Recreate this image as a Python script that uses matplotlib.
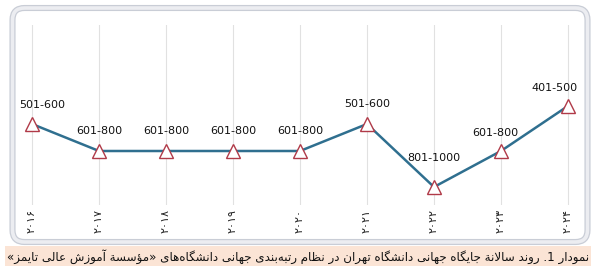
import re
import matplotlib
matplotlib.use("Agg")
import matplotlib.pyplot as plt
from matplotlib.patches import FancyBboxPatch, Rectangle

years = ["۲۰۱۶", "۲۰۱۷", "۲۰۱۸", "۲۰۱۹", "۲۰۲۰", "۲۰۲۱", "۲۰۲۲", "۲۰۲۳", "۲۰۲۴"]
rank_labels = ["501-600", "601-800", "601-800", "601-800", "601-800",
               "501-600", "801-1000", "601-800", "401-500"]
# middle of each rank band, this is what the line is drawn from
rank_mid = [550, 700, 700, 700, 700, 550, 900, 700, 450]
caption = ("نمودار 1. روند سالانة جایگاه جهانی دانشگاه تهران در نظام "
           "رتبه‌بندی جهانی دانشگاه‌های «مؤسسة آموزش عالی تایمز»")

# presentation forms: (first code point, number of forms) -> iso, fin, ini, med
TABLE = {
    'ء': (0xFE80, 1), 'آ': (0xFE81, 2), 'أ': (0xFE83, 2), 'ؤ': (0xFE85, 2),
    'إ': (0xFE87, 2), 'ئ': (0xFE89, 4), 'ا': (0xFE8D, 2), 'ب': (0xFE8F, 4),
    'ة': (0xFE93, 2), 'ت': (0xFE95, 4), 'ث': (0xFE99, 4), 'ج': (0xFE9D, 4),
    'ح': (0xFEA1, 4), 'خ': (0xFEA5, 4), 'د': (0xFEA9, 2), 'ذ': (0xFEAB, 2),
    'ر': (0xFEAD, 2), 'ز': (0xFEAF, 2), 'س': (0xFEB1, 4), 'ش': (0xFEB5, 4),
    'ص': (0xFEB9, 4), 'ض': (0xFEBD, 4), 'ط': (0xFEC1, 4), 'ظ': (0xFEC5, 4),
    'ع': (0xFEC9, 4), 'غ': (0xFECD, 4), 'ف': (0xFED1, 4), 'ق': (0xFED5, 4),
    'ك': (0xFED9, 4), 'ل': (0xFEDD, 4), 'م': (0xFEE1, 4), 'ن': (0xFEE5, 4),
    'ه': (0xFEE9, 4), 'و': (0xFEED, 2), 'ى': (0xFEEF, 2), 'ي': (0xFEF1, 4),
    'پ': (0xFB56, 4), 'چ': (0xFB7A, 4), 'ژ': (0xFB8A, 2), 'ک': (0xFB8E, 4),
    'گ': (0xFB92, 4), 'ی': (0xFBFC, 4),
}
LAM_ALEF = {'آ': 0xFEF5, 'أ': 0xFEF7, 'إ': 0xFEF9, 'ا': 0xFEFB}


def shape(text):
    """join persian letters by hand and put them in visual order"""
    def dual(c):
        return c in TABLE and TABLE[c][1] == 4

    out = []
    i = 0
    while i < len(text):
        c = text[i]
        if c not in TABLE:
            out.append(c)
            i += 1
            continue
        prev = text[i - 1] if i > 0 else ''
        nxt = text[i + 1] if i + 1 < len(text) else ''
        link_prev = dual(prev)
        if c == 'ل' and nxt in LAM_ALEF:
            out.append(chr(LAM_ALEF[nxt] + (1 if link_prev else 0)))
            i += 2
            continue
        start, k = TABLE[c]
        link_next = k == 4 and nxt in TABLE and TABLE[nxt][1] > 1
        if k == 1:
            form = 0
        elif k == 2:
            form = 1 if link_prev else 0
        else:
            form = [[0, 2], [1, 3]][link_prev][link_next]
        out.append(chr(start + form))
        i += 1

    s = ''.join(out).replace('\u200c', '')
    mirror = {'«': '»', '»': '«', '(': ')', ')': '('}
    runs = re.findall(r'[0-9A-Za-z]+|[^0-9A-Za-z]', s)
    return ''.join(mirror.get(t, t) for t in reversed(runs))


W, H = 594, 269
fig = plt.figure(figsize=(W / 100, H / 100), dpi=100)

# frame and caption band, drawn in pixel coordinates
bg = fig.add_axes([0, 0, 1, 1], zorder=-1)
bg.set_xlim(0, W)
bg.set_ylim(H, 0)
bg.axis("off")
bg.add_patch(FancyBboxPatch((12.5, 8), 575, 234,
                            boxstyle="round,pad=0,rounding_size=12",
                            fc="white", ec="#C9CDD6", lw=4.4))
bg.add_patch(FancyBboxPatch((12.5, 8), 575, 234,
                            boxstyle="round,pad=0,rounding_size=12",
                            fc="none", ec="#ECEDF1", lw=2.6))
bg.add_patch(Rectangle((5, 246), 586, 20, fc="#FBE4D5", ec="none"))
bg.text(298, 256.5, shape(caption), ha="center", va="center",
        fontsize=8.6, family="DejaVu Sans", color="#111111")

# chart area: 67 px between years, y runs 0..1000 downwards
x = list(range(len(years)))
ax = fig.add_axes([22 / W, (H - 205) / H, 556 / W, 180 / H])
ax.set_xlim(-0.15, 8.15)
ax.set_ylim(1000, 0)
ax.patch.set_alpha(0)
for s in ax.spines.values():
    s.set_visible(False)

ax.set_xticks(x)
ax.set_xticklabels(years, rotation=90, fontsize=8, family="DejaVu Sans",
                   color="#222222")
ax.tick_params(axis="x", length=0, pad=3)
ax.set_yticks([])
ax.grid(axis="x", color="#E1E1E1", lw=0.8)

ax.plot(x, rank_mid, color="#2F6F8F", lw=1.8, marker="^", ms=9.5,
        mfc="white", mec="#B03A48", mew=1.0, zorder=3)

# nudge the end labels inward and lift the lowest one off the line
dx = [10, 0, 0, 0, 0, 0, 0, -6, -13]
dy = [19, 20, 20, 20, 20, 20, 29, 18, 18]
for i, lab in enumerate(rank_labels):
    ax.annotate(lab, (x[i], rank_mid[i]), xytext=(dx[i], dy[i]),
                textcoords="offset pixels", ha="center", va="center",
                fontsize=8, color="#111111")

fig.savefig("out.png", dpi=100, facecolor="white")
